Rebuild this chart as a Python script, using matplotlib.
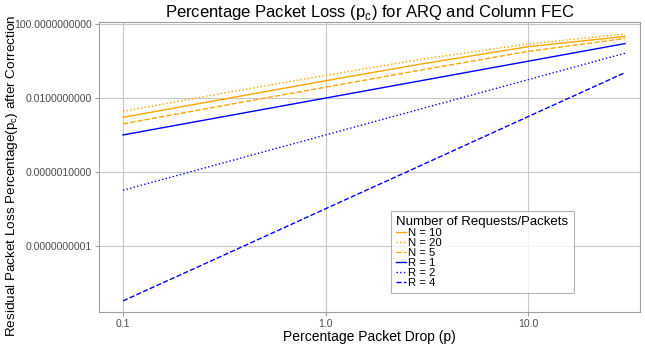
import numpy as np
import matplotlib
matplotlib.use('Agg')
import matplotlib.pyplot as plt
from matplotlib.ticker import FixedLocator, FuncFormatter, NullLocator

plt.rcParams['font.family'] = ['Liberation Sans', 'DejaVu Sans']

p_drop = [0.1, 0.3, 1.0, 3.0, 10.0, 30.0]

# residual loss (%) - column FEC, N packets per column
fec_n10 = [9.0e-4, 8.0e-3, 0.087, 0.72, 6.1, 22.0]
fec_n20 = [1.9e-3, 1.7e-2, 0.17, 1.3, 8.6, 30.0]
fec_n5 = [4.0e-4, 3.6e-3, 0.039, 0.34, 3.4, 17.0]

# residual loss (%) - ARQ, R requests
arq_r1 = [1.0e-4, 9.0e-4, 1.0e-2, 9.0e-2, 1.0, 9.0]
arq_r2 = [1.0e-7, 2.7e-6, 1.0e-4, 2.7e-3, 0.1, 2.7]
arq_r4 = [1.0e-13, 2.4e-11, 1.0e-8, 2.4e-6, 1.0e-3, 0.24]

series = [
    ('N = 10', fec_n10, 'orange', '-'),
    ('N = 20', fec_n20, 'orange', ':'),
    ('N = 5', fec_n5, 'orange', '--'),
    ('R = 1', arq_r1, 'blue', '-'),
    ('R = 2', arq_r2, 'blue', ':'),
    ('R = 4', arq_r4, 'blue', '--'),
]

y_ticks = [1e2, 1e-2, 1e-6, 1e-10]
x_ticks = [0.1, 1.0, 10.0]
x_labels = ['0.1', '1.0', '10.0']

fig = plt.figure(figsize=(6.45, 3.45), dpi=100)
ax = fig.add_axes([0.1535, 0.0957, 0.8385, 0.8403])

for name, vals, col, ls in series:
    ax.plot(p_drop, vals, color=col, linestyle=ls, linewidth=1.0, label=name)

ax.set_xscale('log')
ax.set_yscale('log')
ax.set_xlim(0.0762, 35.5)
ax.set_ylim(10 ** -13.6, 10 ** 2.12)

ax.xaxis.set_major_locator(FixedLocator(x_ticks))
ax.xaxis.set_major_formatter(FuncFormatter(lambda v, pos: x_labels[pos] if pos is not None and pos < len(x_labels) else ''))
ax.xaxis.set_minor_locator(NullLocator())
ax.yaxis.set_major_locator(FixedLocator(y_ticks))
ax.yaxis.set_major_formatter(FuncFormatter(lambda v, pos: '%.10f' % v))
ax.yaxis.set_minor_locator(NullLocator())

ax.grid(True, color='#c8c8c8', linewidth=0.8)
ax.set_axisbelow(True)
for s in ax.spines.values():
    s.set_color('#a0a0a0')
    s.set_linewidth(0.8)
ax.tick_params(axis='both', colors='#a0a0a0', labelcolor='#4d4d4d', labelsize=7.6, length=3, width=0.8, pad=2)

ax.set_title('Percentage Packet Loss (p$_\\mathregular{c}$) for ARQ and Column FEC', fontsize=12, pad=3)
ax.set_xlabel('Percentage Packet Drop (p)', fontsize=10)
ax.set_ylabel('Residual Packet Loss Percentage(p$_\\mathregular{c}$) after Correction', fontsize=9.7)
ax.xaxis.set_label_coords(0.5, -0.062)
ax.yaxis.set_label_coords(-0.147, 0.47)

leg = ax.legend(title='Number of Requests/Packets', loc='lower left', bbox_to_anchor=(0.53, 0.045),
                fontsize=8.2, title_fontsize=9.5, handlelength=0.8, handletextpad=0.2, labelspacing=0.0,
                borderpad=0.45, frameon=True, fancybox=False, alignment='left')
leg.get_frame().set_edgecolor('#a0a0a0')
leg.get_frame().set_linewidth(0.8)

fig.savefig('out.png', dpi=100)
